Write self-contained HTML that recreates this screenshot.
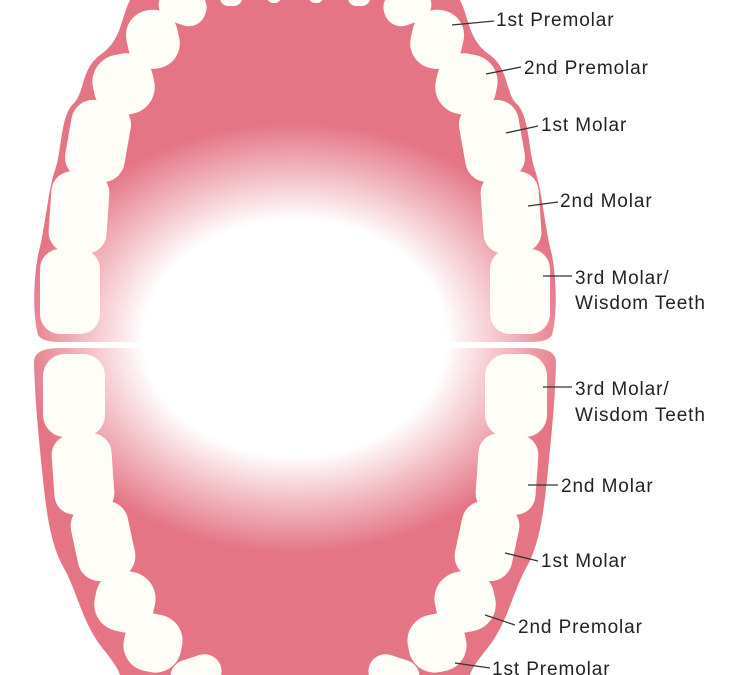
<!DOCTYPE html>
<html><head><meta charset="utf-8"><style>
html,body{margin:0;padding:0;background:#fff;}
svg{display:block}
text{font-family:"Liberation Sans",sans-serif;font-size:19px;letter-spacing:0.9px;fill:#222;}
</style></head><body>
<svg width="730" height="675" viewBox="0 0 730 675" xmlns="http://www.w3.org/2000/svg">
<defs>
<radialGradient id="g" cx="295" cy="338" r="1" gradientUnits="userSpaceOnUse" gradientTransform="translate(295 338) scale(275 215) translate(-295 -338)">
<stop offset="0" stop-color="#fff" stop-opacity="1"/>
<stop offset="0.55" stop-color="#fff" stop-opacity="1"/>
<stop offset="0.75" stop-color="#fff" stop-opacity="0.55"/>
<stop offset="1" stop-color="#fff" stop-opacity="0"/>
</radialGradient>
</defs>
<path fill="#e57585" d="M130,0 C120,20 122,40 100,55 C80,70 85,95 72,105 C60,120 62,150 55,170 C48,190 45,230 38,255 C32,290 34,320 38,335 Q42,342 60,342 L530,342 Q548,342 552,335 C556,320 558,290 552,255 C545,230 542,190 535,170 C528,150 530,120 518,105 C505,95 510,70 490,55 C468,40 470,20 460,0 Z"/>
<path fill="#e57585" d="M60,348 L530,348 Q556,348 556,362 C555,400 552,430 548,470 C544,510 540,545 525,570 C512,595 508,620 490,645 C478,660 472,668 470,675 L120,675 C118,668 112,660 100,645 C82,620 78,595 65,570 C50,545 46,510 42,470 C38,430 35,400 34,362 Q34,348 60,348 Z"/>
<rect x="30" y="100" width="530" height="500" fill="url(#g)"/>
<rect x="0" y="342" width="730" height="6" fill="#fff"/>
<g fill="#fffdf8">
<rect x="127" y="10" width="52" height="59" rx="25" transform="rotate(-12 152 40)"/>
<rect x="93" y="54" width="61" height="61" rx="27" transform="rotate(-12 123 84)"/>
<rect x="68" y="101" width="60" height="80" rx="22" transform="rotate(10 98 141)"/>
<rect x="50" y="172" width="58" height="81" rx="20" transform="rotate(4 79 212)"/>
<rect x="40" y="249" width="60" height="85" rx="20"/>
<rect x="158" y="-12" width="48" height="36" rx="17" transform="rotate(18 182 8)"/>
<rect x="220" y="-10" width="22" height="16" rx="8"/>
<rect x="267" y="-10" width="14" height="13" rx="6"/>
<rect x="309" y="-10" width="14" height="13" rx="6"/>
<rect x="348" y="-10" width="22" height="16" rx="8"/>
<rect x="384" y="-12" width="48" height="36" rx="17" transform="rotate(-18 408 8)"/>
<rect x="411" y="10" width="52" height="59" rx="25" transform="rotate(12 438 40)"/>
<rect x="436" y="54" width="61" height="61" rx="27" transform="rotate(12 467 84)"/>
<rect x="462" y="101" width="60" height="80" rx="22" transform="rotate(-10 492 141)"/>
<rect x="482" y="172" width="58" height="81" rx="20" transform="rotate(-4 511 212)"/>
<rect x="490" y="249" width="60" height="85" rx="20"/>
<rect x="43" y="354" width="62" height="83" rx="22"/>
<rect x="53" y="434" width="60" height="80" rx="20" transform="rotate(-4 83 474)"/>
<rect x="74" y="502" width="58" height="78" rx="22" transform="rotate(-12 103 541)"/>
<rect x="95" y="571" width="60" height="61" rx="27" transform="rotate(12 125 601)"/>
<rect x="124" y="614" width="58" height="58" rx="26" transform="rotate(12 153 643)"/>
<rect x="170" y="657" width="52" height="34" rx="17" transform="rotate(-18 196 674)"/>
<rect x="485" y="354" width="62" height="83" rx="22"/>
<rect x="477" y="434" width="60" height="80" rx="20" transform="rotate(4 507 474)"/>
<rect x="458" y="502" width="58" height="78" rx="22" transform="rotate(12 487 541)"/>
<rect x="435" y="571" width="60" height="61" rx="27" transform="rotate(-12 465 601)"/>
<rect x="408" y="614" width="58" height="58" rx="26" transform="rotate(-12 437 643)"/>
<rect x="368" y="657" width="52" height="34" rx="17" transform="rotate(18 394 674)"/>
</g>
<g stroke="#333" stroke-width="1.3" fill="none">
<line x1="452" y1="25" x2="494" y2="21"/>
<line x1="486" y1="74" x2="521" y2="67"/>
<line x1="506" y1="133" x2="538" y2="126"/>
<line x1="528" y1="206" x2="558" y2="202"/>
<line x1="543" y1="276" x2="572" y2="276"/>
<line x1="543" y1="387" x2="572" y2="387"/>
<line x1="528" y1="485" x2="558" y2="485"/>
<line x1="505" y1="553" x2="538" y2="561"/>
<line x1="485" y1="615" x2="515" y2="625"/>
<line x1="455" y1="663" x2="490" y2="668"/>
</g>
<text x="496" y="26">1st Premolar</text>
<text x="524" y="74">2nd Premolar</text>
<text x="541" y="131">1st Molar</text>
<text x="560" y="207">2nd Molar</text>
<text x="575" y="284">3rd Molar/</text>
<text x="575" y="309">Wisdom Teeth</text>
<text x="575" y="395">3rd Molar/</text>
<text x="575" y="421">Wisdom Teeth</text>
<text x="561" y="492">2nd Molar</text>
<text x="541" y="567">1st Molar</text>
<text x="518" y="633">2nd Premolar</text>
<text x="492" y="675">1st Premolar</text>
</svg>
</body></html>
